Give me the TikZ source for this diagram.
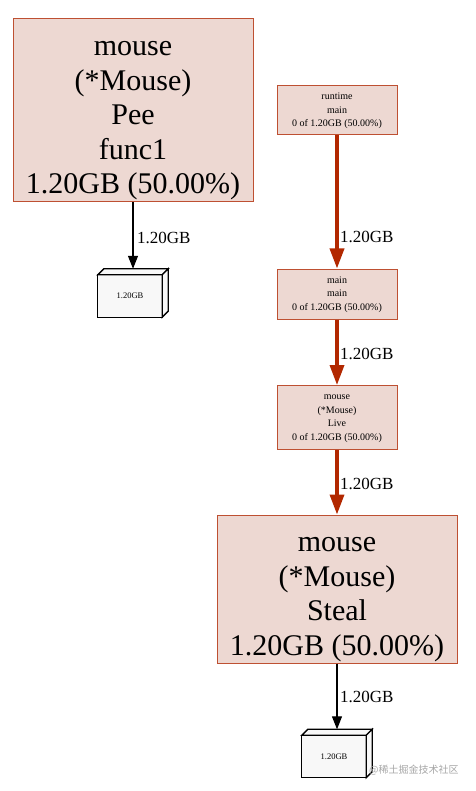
\documentclass[tikz,border=0pt]{standalone}
\usepackage{fontspec}
\setmainfont{Liberation Serif}
\newfontfamily\cjkfont{Noto Sans CJK SC}
\usetikzlibrary{arrows.meta,calc}
\definecolor{nodefill}{RGB}{237,216,210}
\definecolor{nodeline}{RGB}{190,80,50}
\definecolor{hotedge}{RGB}{178,40,0}
\definecolor{cubefill}{RGB}{248,248,248}
\newcommand{\bigtop}{\rule{0pt}{35pt}}
\newcommand{\smalltop}{\rule{0pt}{7.5pt}}
\tikzset{
  bigbox/.style={draw=nodeline, fill=nodefill, line width=1pt, minimum width=240pt, align=center, inner sep=0pt,
    font=\fontsize{30}{34.5}\selectfont},
  smallbox/.style={draw=nodeline, fill=nodefill, line width=1pt, minimum width=120pt, align=center, inner sep=0pt,
    font=\fontsize{10}{13.5}\selectfont},
  cubebox/.style={minimum width=70pt, minimum height=48pt, inner sep=0pt},
  cubetext/.style={font=\fontsize{8.5}{10}\selectfont, inner sep=0pt},
  hotarrow/.style={draw=hotedge, line width=3.5pt, -{Triangle[length=20pt,width=14pt]}},
  coldarrow/.style={draw=black, line width=1.2pt, -{Triangle[length=13pt,width=10pt]}},
  elabel/.style={font=\fontsize{17}{20}\selectfont, anchor=west, inner sep=0pt},
  cubeface/.style={draw=black, line width=1.3pt, fill=cubefill, line join=miter}
}
\begin{document}
\begin{tikzpicture}[x=1pt,y=-1pt]
\useasboundingbox (0,0) rectangle (475,791);

% nodes
\node[bigbox, minimum height=183pt] (pee) at (133,110.5) {\bigtop mouse\\(*Mouse)\\Pee\\func1\\1.20GB (50.00\%)};
\node[cubebox] (cubeA) at (133,293) {};
\node[smallbox, minimum height=49pt] (runtime) at (337,110.5) {\smalltop runtime\\main\\0 of 1.20GB (50.00\%)};
\node[smallbox, minimum height=50pt] (mainmain) at (337,294) {\smalltop main\\main\\0 of 1.20GB (50.00\%)};
\node[smallbox, minimum height=64pt] (live) at (337,417.5) {\smalltop mouse\\(*Mouse)\\Live\\0 of 1.20GB (50.00\%)};
\node[bigbox, minimum height=148pt] (steal) at (337,589) {\bigtop mouse\\(*Mouse)\\Steal\\1.20GB (50.00\%)};
\node[cubebox] (cubeB) at (337,753.5) {};

% cube faces
\foreach \c in {cubeA,cubeB}{
  \draw[cubeface] ($(\c.north west)+(0,6)$) rectangle ($(\c.south east)+(-6,0)$);
  \draw[cubeface] ($(\c.north west)+(0,6)$) -- ($(\c.north west)+(6,0)$) -- (\c.north east) -- ($(\c.north east)+(-6,6)$) -- cycle;
  \draw[cubeface] (\c.north east) -- ($(\c.south east)+(0,-6)$) -- ($(\c.south east)+(-6,0)$) -- ($(\c.north east)+(-6,6)$) -- cycle;
  \node[cubetext] (\c-label) at ($(\c.center)+(-3,3)$) {1.20GB};
}

% edges
\draw[coldarrow] (pee.south) -- (cubeA.north);
\node[elabel] (lA) at (137,238) {1.20GB};
\draw[hotarrow] (runtime.south) -- (mainmain.north);
\node[elabel] (l1) at (340,237) {1.20GB};
\draw[hotarrow] (mainmain.south) -- (live.north);
\node[elabel] (l2) at (340,354) {1.20GB};
\draw[hotarrow] (live.south) -- (steal.north);
\node[elabel] (l3) at (340,484) {1.20GB};
\draw[coldarrow] (steal.south) -- (cubeB.north);
\node[elabel] (l4) at (340,697) {1.20GB};

% watermark
\node[font=\cjkfont\fontsize{10}{12}\selectfont, text=black!35, anchor=west, inner sep=0pt] (wm) at (369,770) {@稀土掘金技术社区};
\end{tikzpicture}
\end{document}
